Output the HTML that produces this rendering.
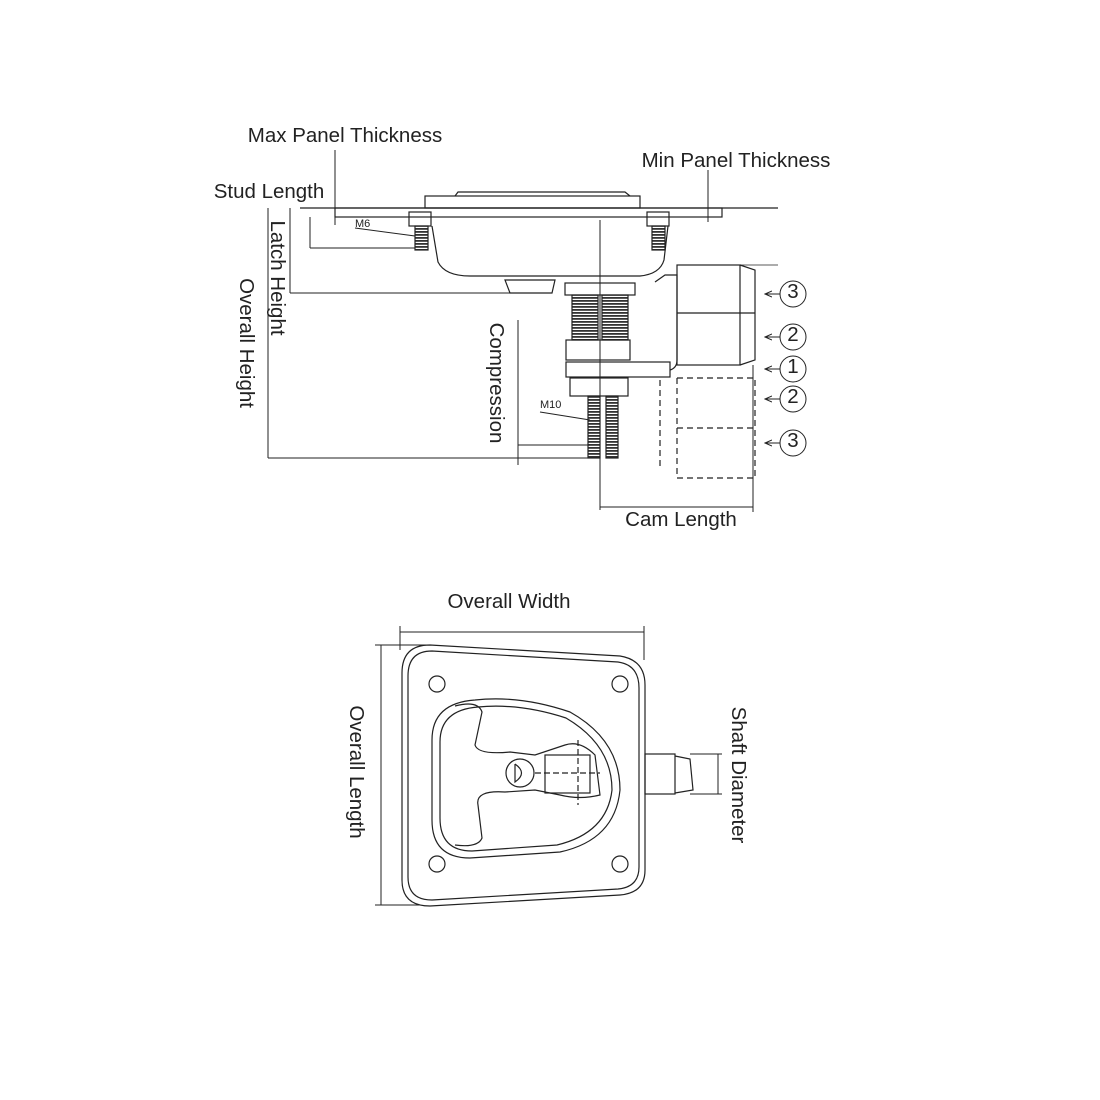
<!DOCTYPE html>
<html><head><meta charset="utf-8"><style>
html,body{margin:0;padding:0;background:#fff;}
svg{display:block}
text{font-family:"Liberation Sans",sans-serif;font-size:20.5px;fill:#222}
</style></head><body>
<svg width="1100" height="1100" viewBox="0 0 1100 1100" xmlns="http://www.w3.org/2000/svg">
<defs><marker id="a" markerWidth="8" markerHeight="8" refX="7" refY="4" orient="auto"><path d="M0,1 L7,4 L0,7" fill="none" stroke="#222" stroke-width="1"/></marker>
<pattern id="th" width="4" height="3" patternUnits="userSpaceOnUse"><rect width="4" height="3" fill="#fff"/><rect width="4" height="1.8" fill="#333"/></pattern></defs>
<g stroke="#222" stroke-width="1.2" fill="none">
<line x1="300" y1="208" x2="778" y2="208"/>
<rect x="335" y="208" width="387" height="9"/>
<rect x="425" y="196" width="215" height="12"/>
<path d="M455,196 L458,192 L625,192 L630,196"/>
<rect x="409" y="212" width="22" height="14"/><rect x="415" y="226" width="13" height="24" fill="url(#th)"/>
<rect x="647" y="212" width="22" height="14"/><rect x="652" y="226" width="13" height="24" fill="url(#th)"/>
<path d="M432,226 L438,262 Q445,276 470,276 L640,276 Q660,274 664,260 L668,226"/>
<path d="M505,280 L555,280 L552,293 L510,293 Z"/>
<rect x="565" y="283" width="70" height="12"/>
<rect x="572" y="295" width="26" height="45" fill="url(#th)"/><rect x="602" y="295" width="26" height="45" fill="url(#th)"/>
<rect x="566" y="340" width="64" height="20"/>
<rect x="566" y="362" width="104" height="15"/>
<rect x="570" y="378" width="58" height="18"/>
<rect x="588" y="396" width="12" height="62" fill="url(#th)"/><rect x="606" y="396" width="12" height="62" fill="url(#th)"/>
<line x1="600" y1="220" x2="600" y2="510" stroke-width="1"/>
<path d="M655,282 L665,275 L677,275 L677,360 Q677,368 670,370"/>
<rect x="677" y="265" width="63" height="100"/>
<path d="M740,265 L755,270 L755,360 L740,365"/>
<line x1="740" y1="265" x2="778" y2="265" stroke-width="0.8"/>
<line x1="677" y1="313" x2="755" y2="313"/>
<path d="M677,378 L755,378 L755,478 L677,478 L677,378 M677,428 L755,428 M660,380 L660,470" stroke-dasharray="6,4"/>
<g stroke-width="1"><circle cx="793" cy="294" r="13"/><circle cx="793" cy="337" r="13"/><circle cx="793" cy="369" r="13"/><circle cx="793" cy="399" r="13"/><circle cx="793" cy="443" r="13"/>
<line x1="780" y1="294" x2="765" y2="294" marker-end="url(#a)"/><line x1="780" y1="337" x2="765" y2="337" marker-end="url(#a)"/><line x1="780" y1="369" x2="765" y2="369" marker-end="url(#a)"/><line x1="780" y1="399" x2="765" y2="399" marker-end="url(#a)"/><line x1="780" y1="443" x2="765" y2="443" marker-end="url(#a)"/></g>
<g stroke-width="1">
<line x1="268" y1="208" x2="268" y2="458"/><line x1="290" y1="208" x2="290" y2="293"/><line x1="310" y1="217" x2="310" y2="248"/>
<line x1="310" y1="248" x2="415" y2="248"/><line x1="290" y1="293" x2="510" y2="293"/><line x1="268" y1="458" x2="600" y2="458"/>
<line x1="335" y1="150" x2="335" y2="225"/><line x1="708" y1="170" x2="708" y2="222"/>
<line x1="518" y1="320" x2="518" y2="465"/><line x1="518" y1="445" x2="590" y2="445"/>
<line x1="600" y1="507" x2="753" y2="507"/><line x1="753" y1="365" x2="753" y2="512"/>
<line x1="355" y1="228" x2="415" y2="236"/><line x1="540" y1="412" x2="590" y2="420"/>
</g>
<path d="M430,645 L620,656 Q645,660 645,685 L645,870 Q645,893 620,895 L430,906 Q402,906 402,880 L402,673 Q402,645 430,645 Z"/>
<path d="M432,651 L618,662 Q639,665 639,688 L639,867 Q639,887 618,889 L432,900 Q408,900 408,877 L408,676 Q408,651 432,651 Z"/>
<circle cx="437" cy="684" r="8"/><circle cx="620" cy="684" r="8"/><circle cx="437" cy="864" r="8"/><circle cx="620" cy="864" r="8"/>
<path d="M475,700 Q520,695 570,712 Q620,740 620,790 Q615,840 560,852 L470,858 Q432,858 432,820 L432,740 Q432,703 475,700 Z"/>
<path d="M478,707 Q520,703 566,718 Q612,745 612,790 Q607,833 557,845 L472,851 Q440,851 440,818 L440,742 Q440,710 478,707 Z"/>
<path d="M455,706 Q478,700 482,712 L475,745 Q478,755 510,752 L535,755 L565,745 Q580,740 595,755 L600,795 Q580,800 560,795 L535,790 L505,792 Q475,790 478,805 L482,838 Q478,848 455,845"/>
<rect x="545" y="755" width="45" height="38"/>
<line x1="578" y1="740" x2="578" y2="805" stroke-dasharray="6,3"/><line x1="535" y1="773" x2="600" y2="773" stroke-dasharray="6,3"/>
<circle cx="520" cy="773" r="14"/><path d="M515,764 L515,782 Q528,773 515,764"/>
<rect x="645" y="754" width="30" height="40"/><path d="M675,756 L690,759 L693,790 L675,793"/>
<g stroke-width="1">
<line x1="400" y1="632" x2="644" y2="632"/><line x1="400" y1="626" x2="400" y2="650"/><line x1="644" y1="626" x2="644" y2="660"/>
<line x1="381" y1="645" x2="381" y2="905"/><line x1="375" y1="645" x2="430" y2="645"/><line x1="375" y1="905" x2="420" y2="905"/>
<line x1="718" y1="754" x2="718" y2="794"/><line x1="690" y1="754" x2="722" y2="754"/><line x1="690" y1="794" x2="722" y2="794"/>
</g>
</g>
<text x="345" y="142" text-anchor="middle">Max Panel Thickness</text>
<text x="736" y="167" text-anchor="middle">Min Panel Thickness</text>
<text x="269" y="198" text-anchor="middle">Stud Length</text>
<text x="681" y="526" text-anchor="middle">Cam Length</text>
<text x="509" y="608" text-anchor="middle">Overall Width</text>
<text style="font-size:11px" x="355" y="227">M6</text>
<text style="font-size:11px" x="540" y="408">M10</text>
<g style="font-size:12px" text-anchor="middle"><text x="793" y="298">3</text><text x="793" y="341">2</text><text x="793" y="373">1</text><text x="793" y="403">2</text><text x="793" y="447">3</text></g>
<text transform="translate(240,343) rotate(90)" text-anchor="middle">Overall Height</text>
<text transform="translate(271,278) rotate(90)" text-anchor="middle">Latch Height</text>
<text transform="translate(490,383) rotate(90)" text-anchor="middle">Compression</text>
<text transform="translate(350,772) rotate(90)" text-anchor="middle">Overall Length</text>
<text transform="translate(732,775) rotate(90)" text-anchor="middle">Shaft Diameter</text>
</svg>
</body></html>
